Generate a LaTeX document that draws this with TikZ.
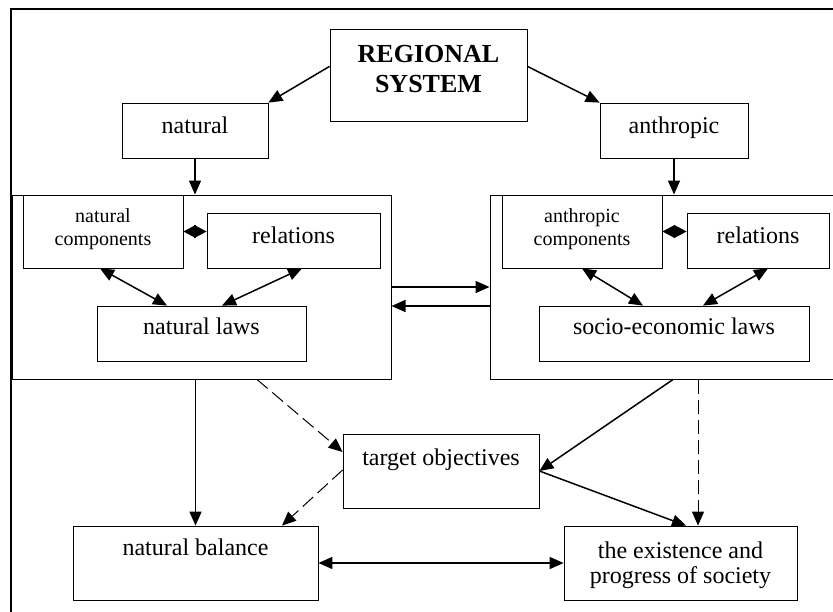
\documentclass[tikz,border=0pt]{standalone}
\usepackage{fontspec}
\setmainfont{Liberation Serif}
\usetikzlibrary{arrows.meta}

\begin{document}
\begin{tikzpicture}[x=1pt, y=-1pt,
  box/.style={draw, line width=0.8pt, inner sep=0pt, align=center, font=\fontsize{24}{25}\selectfont},
  smallbox/.style={box, font=\fontsize{20}{23}\selectfont},
  sysbox/.style={draw, line width=1pt, inner sep=0pt},
  link/.style={line width=1.5pt, -{Triangle[length=14pt,width=12pt]}},
  both/.style={line width=1.5pt, {Triangle[length=14pt,width=12pt]}-{Triangle[length=14pt,width=12pt]}},
  touch/.style={line width=1pt, {Triangle[length=12.5pt,width=13pt]}-{Triangle[length=12.5pt,width=13pt]}},
  hint/.style={link, line width=1pt, dash pattern=on 14pt off 6pt}
]
\useasboundingbox (0,0) rectangle (833,611);
\clip (0,0) rectangle (833,611);

% Outer frame (cut off at right and bottom)
\draw[line width=1.2pt] (11,640) -- (11,9) -- (860,9);

% --- Top level ---
\node[box, font=\fontsize{26}{30}\selectfont\bfseries, minimum width=197pt, text height=63pt, text depth=29pt]
  (rs) at (428.5,75) {REGIONAL\\SYSTEM};
\node[box, minimum width=146pt, text height=30pt, text depth=25pt] (nat) at (195,130.5) {natural};
\node[box, minimum width=148pt, text height=30pt, text depth=25pt] (ant) at (674,130.5) {anthropic};

% --- Subsystems ---
\node[sysbox, minimum width=379pt, minimum height=184pt] (leftsys) at (201.5,287) {};
\node[sysbox, minimum width=360pt, minimum height=184pt] (rightsys) at (670,287) {};

\node[smallbox, minimum width=160pt, text height=50pt, text depth=23pt] (nc) at (103,231.5) {natural\\components};
\node[box, minimum width=173pt, text height=30pt, text depth=25pt] (rel) at (293.5,240.5) {relations};
\node[box, minimum width=209pt, text height=28pt, text depth=27pt] (nl) at (201.5,333.5) {natural laws};

\node[smallbox, minimum width=160pt, text height=50pt, text depth=23pt] (ac) at (582,231.5) {anthropic\\components};
\node[box, minimum width=142pt, text height=30pt, text depth=25pt] (rr) at (758,240.5) {relations};
\node[box, minimum width=270pt, text height=28pt, text depth=27pt] (sl) at (674,333.5) {socio-economic laws};

% --- Outcomes ---
\node[box, minimum width=196pt, text height=31pt, text depth=43pt] (tgt) at (441,471) {target objectives};
\node[box, minimum width=245pt, text height=29pt, text depth=45pt] (nb) at (195.5,563) {natural balance};
\node[box, minimum width=233pt, text height=57pt, text depth=17pt] (ex) at (680.5,563) {the existence and\\progress of society};

% Top arrows
\draw[link] (rs.175) -- (nat.north east);
\draw[link] (rs.5) -- (ant.north west);
\draw[link] (nat.south) -- (nat.south |- leftsys.north);
\draw[link] (ant.south) -- (ant.south |- rightsys.north);

% Inside the subsystems
\draw[touch] (nc.east) -- (nc.east -| rel.west);
\draw[both] ([xshift=-3pt]nc.south) -- ([xshift=-34.5pt]nl.north);
\draw[both] ([xshift=8.5pt]rel.south) -- ([xshift=20.5pt]nl.north);
\draw[touch] (ac.east) -- (ac.east -| rr.west);
\draw[both] (ac.south) -- ([xshift=-31pt]sl.north);
\draw[both] ([xshift=10pt]rr.south) -- ([xshift=29pt]sl.north);

% Exchange between subsystems
\draw[link] (leftsys.east) -- (rightsys.west);
\draw[link] ([yshift=-19pt]rightsys.west) -- ([yshift=-19pt]leftsys.east);

% Bottom arrows
\draw[link] (nb.north |- leftsys.south) -- (nb.north);
\draw[hint] ([xshift=55.5pt]leftsys.south) -- ([yshift=19pt]tgt.west);
\draw[hint] ([yshift=1pt]tgt.west) -- ([xshift=86.5pt]nb.north);
\draw[link] ([xshift=3pt]rightsys.south) -- (tgt.east);
\draw[link] (tgt.east) -- ([xshift=5.5pt]ex.north);
\coordinate (exdash) at ([xshift=17.5pt]ex.north);
\draw[hint] (exdash |- rightsys.south) -- (exdash);
\draw[both] (nb.east) -- (ex.west);
\end{tikzpicture}
\end{document}
